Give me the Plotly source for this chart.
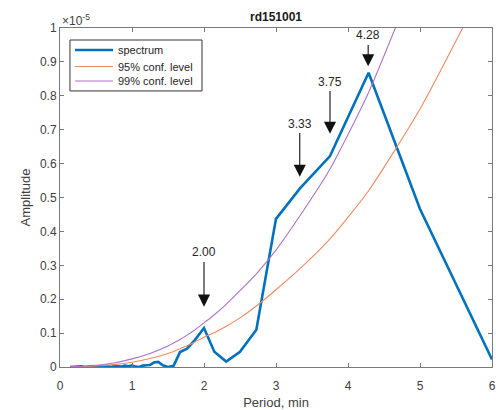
import plotly.graph_objects as go

# ---------------- data (amplitude in units of 1e-5) ----------------
spec_period = [0.14, 0.2, 0.25, 0.3, 0.35, 0.4, 0.45, 0.5, 0.55, 0.6, 0.65, 0.7, 0.75, 0.8,
               0.85, 0.9, 0.95, 1.0, 1.05, 1.1, 1.15, 1.2, 1.25, 1.304, 1.364, 1.429, 1.5,
               1.579, 1.667, 1.765, 1.875, 2.0, 2.143, 2.308, 2.5, 2.727, 3.0, 3.333, 3.75,
               4.286, 5.0, 6.0]
spec_amp = [0.000, 0.001, 0.000, 0.002, 0.000, 0.001, 0.003, 0.000, 0.002, 0.001, 0.004,
            0.000, 0.003, 0.002, 0.001, 0.004, 0.002, 0.005, 0.001, 0.000, 0.004, 0.005,
            0.006, 0.013, 0.015, 0.005, 0.000, 0.004, 0.044, 0.054, 0.080, 0.115, 0.045,
            0.016, 0.045, 0.110, 0.437, 0.527, 0.622, 0.868, 0.466, 0.022]

conf_period = [0.14, 0.25, 0.5, 0.75, 1.0, 1.25, 1.5, 1.579, 1.667, 1.765, 1.875, 2.0, 2.143,
               2.308, 2.5, 2.727, 3.0, 3.333, 3.75, 4.286, 5.0, 6.0]
conf95 = [0.000, 0.001, 0.003, 0.007, 0.014, 0.025, 0.040, 0.046, 0.054, 0.063, 0.074,
          0.088, 0.101, 0.120, 0.145, 0.180, 0.228, 0.290, 0.378, 0.520, 0.761, 1.170]
conf99 = [0.000, 0.001, 0.005, 0.012, 0.024, 0.040, 0.062, 0.071, 0.081, 0.094, 0.110,
          0.130, 0.154, 0.185, 0.225, 0.275, 0.345, 0.446, 0.584, 0.810, 1.180, 1.700]

peak_labels = ["2.00", "3.33", "3.75", "4.28"]
peak_period = [2.00, 3.33, 3.75, 4.28]

series_names = ["spectrum", "95% conf. level", "99% conf. level"]

x_ticks = [0, 1, 2, 3, 4, 5, 6]
y_ticks = [0, 0.1, 0.2, 0.3, 0.4, 0.5, 0.6, 0.7, 0.8, 0.9, 1]
y_ticklabels = ["0", "0.1", "0.2", "0.3", "0.4", "0.5", "0.6", "0.7", "0.8", "0.9", "1"]

# ---------------- styling / layout ----------------
FONT = "Liberation Sans, Arial, sans-serif"
AX_COL = "#7a7a7a"
TXT_COL = "#404040"
COLORS = ["#0072BD", "#EE8A60", "#AE72C6"]
WIDTHS = [2.6, 1.1, 1.1]

# arrow tip height and label height for each peak annotation (layout only)
arrow_tip_y = [0.178, 0.561, 0.688, 0.887]
label_y = [0.338, 0.718, 0.842, 0.978]

fig = go.Figure()
fig.add_trace(go.Scatter(x=spec_period, y=spec_amp, mode="lines", name=series_names[0],
                         line=dict(color=COLORS[0], width=WIDTHS[0])))
fig.add_trace(go.Scatter(x=conf_period, y=conf95, mode="lines", name=series_names[1],
                         line=dict(color=COLORS[1], width=WIDTHS[1], shape="spline", smoothing=0.6)))
fig.add_trace(go.Scatter(x=conf_period, y=conf99, mode="lines", name=series_names[2],
                         line=dict(color=COLORS[2], width=WIDTHS[2], shape="spline", smoothing=0.6)))

annotations = []
for lab, px, ty, ly in zip(peak_labels, peak_period, arrow_tip_y, label_y):
    annotations.append(dict(
        x=px, y=ty, xref="x", yref="y", ax=px, ay=ly, axref="x", ayref="y",
        text=lab, showarrow=True, arrowhead=2, arrowsize=2.2, arrowwidth=1.1,
        arrowcolor="#111111", standoff=0, font=dict(family=FONT, size=12, color="#262626"),
        borderpad=2))

annotations.append(dict(x=0, y=1, xref="paper", yref="paper", xanchor="left", yanchor="bottom",
                        text="\u00d710<sup>-5</sup>", showarrow=False, yshift=-2,
                        font=dict(family=FONT, size=12, color=TXT_COL)))

# compact MATLAB-style legend box (paper coordinates)
shapes = [dict(type="rect", xref="paper", yref="paper", x0=0.0231, x1=0.3287, y0=0.8143,
               y1=0.9646, line=dict(color="#333333", width=1), fillcolor="white", layer="above")]
row_y = [0.9349, 0.8863, 0.8436]
for name, col, w, ry in zip(series_names, COLORS, WIDTHS, row_y):
    shapes.append(dict(type="line", xref="paper", yref="paper", x0=0.0347, x1=0.1227,
                       y0=ry, y1=ry, line=dict(color=col, width=w), layer="above"))
    annotations.append(dict(x=0.1305, y=ry, xref="paper", yref="paper", xanchor="left",
                            yanchor="middle", text=name, showarrow=False,
                            font=dict(family=FONT, size=11, color="#262626")))

axis_common = dict(showgrid=False, zeroline=False, showline=True, linecolor=AX_COL, linewidth=1,
                   mirror="ticks", ticks="inside", ticklen=4, tickcolor=AX_COL, automargin=False,
                   tickfont=dict(family=FONT, size=12, color=TXT_COL))

fig.update_layout(
    width=496, height=410,
    margin=dict(l=60, r=4, t=28, b=43),
    paper_bgcolor="white", plot_bgcolor="white",
    title=dict(text="<b>rd151001</b>", x=0.5565, xanchor="center", y=1 - 17 / 410,
               yanchor="middle", yref="container",
               font=dict(family=FONT, size=12, color="#1a1a1a")),
    xaxis=dict(range=[0, 6], tickvals=x_ticks, ticklabelstandoff=8,
               title=dict(text="Period, min", standoff=5,
                          font=dict(family=FONT, size=13, color=TXT_COL)),
               **axis_common),
    yaxis=dict(range=[0, 1], tickvals=y_ticks, ticktext=y_ticklabels,
               title=dict(text="Amplitude", standoff=6,
                          font=dict(family=FONT, size=13, color=TXT_COL)),
               **axis_common),
    showlegend=False,
    hovermode=False,
    shapes=shapes,
    annotations=annotations,
)

fig.write_html("out.html", config={"displayModeBar": False, "staticPlot": True},
               post_script="document.body.style.margin='0';document.body.style.padding='0';")
